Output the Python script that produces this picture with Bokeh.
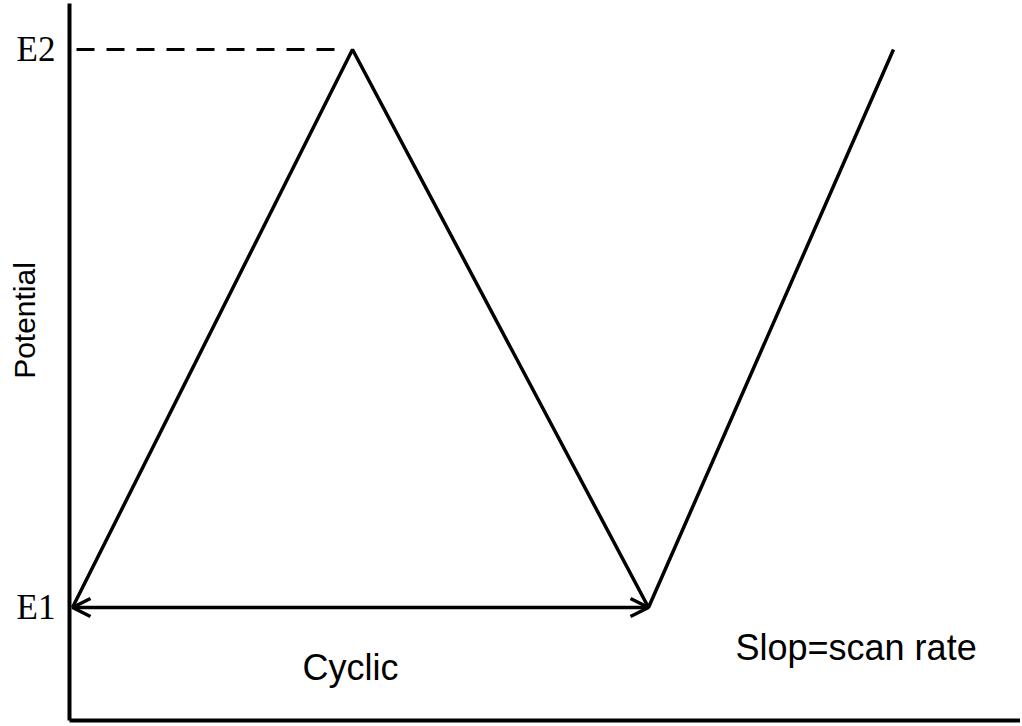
import math
from bokeh.plotting import figure
from bokeh.models import Label, Arrow, OpenHead, FixedTicker, Range1d
from bokeh.embed import file_html
from bokeh.resources import INLINE

# --- data ---
time = [0.03, 2.83, 5.79, 8.24]          # scan time (arbitrary units)
E1, E2 = 1.13, 6.71                      # potentials
potential = [E1, E2, E1, E2]
tick_values = [E1, E2]
tick_labels = ["E1", "E2"]
dash_x = [0.07, 2.71]
arrow_x = [0.03, 5.79]
y_label = "Potential"
cyclic_text = "Cyclic"
slope_text = "Slop=scan rate"

p = figure(width=1020, height=723, output_backend="svg", toolbar_location=None,
           x_range=Range1d(-0.69, 9.51), y_range=Range1d(-0.03, 7.20),
           min_border_left=0, min_border_right=0, min_border_top=0, min_border_bottom=0)
p.grid.visible = False
p.outline_line_color = None
p.background_fill_color = "white"

# y axis (fixed at time = 0)
ya = p.yaxis[0]
ya.fixed_location = 0
ya.bounds = (0, 7.17)
ya.ticker = FixedTicker(ticks=tick_values)
ya.major_label_overrides = {v: t for v, t in zip(tick_values, tick_labels)}
ya.major_label_text_font = "Liberation Serif"
ya.major_label_text_font_size = "35px"
ya.major_label_text_color = "black"
ya.major_tick_line_color = None
ya.minor_tick_line_color = None
ya.major_label_standoff = 8
ya.axis_line_width = 4
ya.axis_line_color = "black"

# x axis (fixed at potential = 0)
xa = p.xaxis[0]
xa.fixed_location = 0
xa.bounds = (0, 9.51)
xa.ticker = FixedTicker(ticks=[])
xa.major_tick_line_color = None
xa.minor_tick_line_color = None
xa.major_label_text_font_size = "0px"
xa.axis_line_width = 4
xa.axis_line_color = "black"

# triangle waveform
p.line(time, potential, line_color="black", line_width=3.5)

# dashed E2 reference
p.line(dash_x, [E2, E2], line_color="black", line_width=3, line_dash="18 12")

# double arrow
p.add_layout(Arrow(x_start=arrow_x[0], y_start=E1, x_end=arrow_x[1], y_end=E1,
                   line_width=3.5, line_color="black",
                   start=OpenHead(size=18, line_width=3.5, line_color="black"),
                   end=OpenHead(size=18, line_width=3.5, line_color="black")))

p.add_layout(Label(x=2.81, y=0.53, text=cyclic_text, text_align="center",
                   text_baseline="alphabetic", text_font="Liberation Sans",
                   text_font_size="36px", text_color="black"))
p.add_layout(Label(x=6.66, y=0.73, text=slope_text, text_align="left",
                   text_baseline="alphabetic", text_font="Liberation Sans",
                   text_font_size="36px", text_color="black"))
p.add_layout(Label(x=-0.45, y=4.00, text=y_label, angle=math.pi / 2,
                   text_align="center", text_baseline="middle",
                   text_font="Liberation Sans", text_font_size="30px",
                   text_color="black"))

open("out.html", "w").write(file_html(p, INLINE))
